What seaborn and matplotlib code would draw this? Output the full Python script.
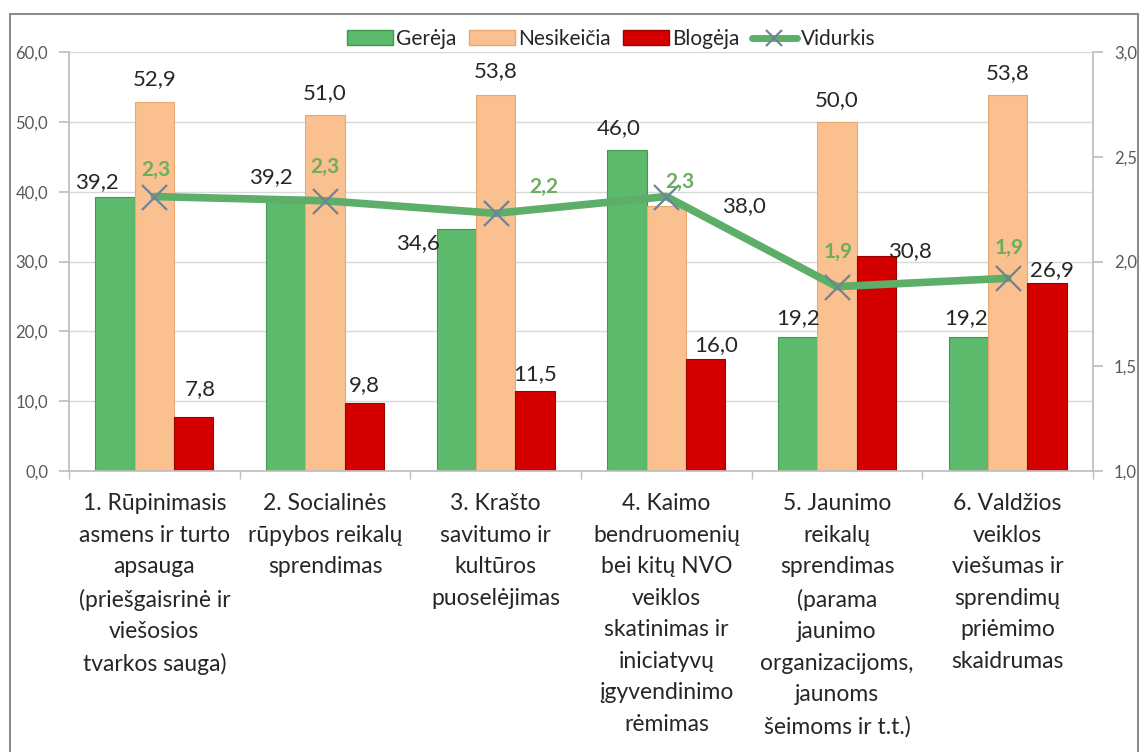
import numpy as np
import pandas as pd
import matplotlib.pyplot as plt
from matplotlib.patches import Patch, Rectangle
from matplotlib.lines import Line2D
import seaborn as sns

categories = [
    "1. Rūpinimasis\nasmens ir turto\napsauga\n(priešgaisrinė ir\nviešosios\ntvarkos sauga)",
    "2. Socialinės\nrūpybos reikalų\nsprendimas",
    "3. Krašto\nsavitumo ir\nkultūros\npuoselėjimas",
    "4. Kaimo\nbendruomenių\nbei kitų NVO\nveiklos\nskatinimas ir\niniciatyvų\nįgyvendinimo\nrėmimas",
    "5. Jaunimo\nreikalų\nsprendimas\n(parama\njaunimo\norganizacijoms,\njaunoms\nšeimoms ir t.t.)",
    "6. Valdžios\nveiklos\nviešumas ir\nsprendimų\npriėmimo\nskaidrumas",
]
series = ["Gerėja", "Nesikeičia", "Blogėja"]
gereja = [39.2, 39.2, 34.6, 46.0, 19.2, 19.2]
nesikeicia = [52.9, 51.0, 53.8, 38.0, 50.0, 53.8]
blogeja = [7.8, 9.8, 11.5, 16.0, 30.8, 26.9]
vidurkis = [2.31, 2.29, 2.23, 2.31, 1.88, 1.92]

colors = ["#5DB96B", "#FAC090", "#D40000"]
edges = ["#3F9A50", "#E9A870", "#9E0000"]
line_green = "#5DAE68"
label_green = "#6AAE5E"

# label nudges in pixels (hand-placed in the original)
bar_dx = [[-18, -15, -38, -8, 0, -2], [0, 0, 0, 78, 0, 0], [7, 0, 0, 11, 34, 5]]
bar_dy = [[15, 20, -14, 22, 19, 19], [22, 22, 24, 0, 22, 22], [27, 17, 17, 14, 5, 13]]
line_dx = [2, 0, 48, 14, 1, 1]
line_dy = [27, 34, 26, 15, 35, 30]

df = pd.DataFrame({
    "cat": np.tile(categories, 3),
    "series": np.repeat(series, len(categories)),
    "val": gereja + nesikeicia + blogeja,
})

sns.set_theme(style="white")
plt.rcParams["font.family"] = ["Lato", "DejaVu Sans"]

fig = plt.figure(figsize=(11.41, 7.52), dpi=100)
ax = fig.add_axes([69 / 1141, 1 - 471 / 752, (1093 - 69) / 1141, (471 - 52) / 752])

sns.barplot(data=df, x="cat", y="val", hue="series", palette=colors,
            saturation=1, width=0.69, ax=ax, legend=False)
for k, cont in enumerate(ax.containers):
    for j, bar in enumerate(cont):
        bar.set_edgecolor(edges[k])
        bar.set_linewidth(0.8)
        ax.annotate(f"{bar.get_height():.1f}".replace(".", ","),
                    (bar.get_x() + bar.get_width() / 2, bar.get_height()),
                    xytext=(bar_dx[k][j], bar_dy[k][j]), textcoords="offset pixels",
                    ha="center", va="center", fontsize=16, color="#262626")

ax.set_ylim(0, 60)
ax.set_yticks(np.arange(0, 61, 10))
ax.set_yticklabels([f"{v:.1f}".replace(".", ",") for v in np.arange(0, 61, 10)])
ax.yaxis.grid(True, color="#D9D9D9", lw=1)
ax.set_axisbelow(True)
ax.set_xlabel("")
ax.set_ylabel("")
ax.set_xticks(range(6))
ax.set_xticklabels(categories, linespacing=1.62, fontsize=16.5, color="#262626", va="top")
ax.set_xticks(np.arange(-0.5, 6, 1), minor=True)
ax.tick_params(axis="x", which="major", length=0, pad=16)
ax.tick_params(axis="x", which="minor", length=6, color="#BFBFBF", direction="out", bottom=True)
ax.tick_params(axis="y", length=7, color="#BFBFBF", direction="out", left=True,
               labelsize=12, labelcolor="#595959", pad=8)
for s in ["top", "right"]:
    ax.spines[s].set_visible(False)
for s in ["left", "bottom"]:
    ax.spines[s].set_color("#BFBFBF")

ax2 = ax.twinx()
sns.lineplot(x=np.arange(6), y=vidurkis, ax=ax2, color=line_green, lw=5.5,
             marker="x", markersize=18, markeredgewidth=1.6, markeredgecolor="#6E8496")
ax2.set_ylim(1, 3)
ax2.set_yticks(np.arange(1, 3.01, 0.5))
ax2.set_yticklabels([f"{v:.1f}".replace(".", ",") for v in np.arange(1, 3.01, 0.5)])
ax2.tick_params(axis="y", length=7, color="#BFBFBF", direction="out", right=True,
                labelsize=12, labelcolor="#595959", pad=8)
ax2.set_xlabel("")
ax2.set_ylabel("")
for s in ["top", "left", "bottom"]:
    ax2.spines[s].set_visible(False)
ax2.spines["right"].set_color("#BFBFBF")
for j, v in enumerate(vidurkis):
    ax2.annotate(f"{v:.1f}".replace(".", ","), (j, v), xytext=(line_dx[j], line_dy[j]),
                 textcoords="offset pixels", ha="center", va="center",
                 fontsize=15, fontweight="bold", color=label_green)
ax.set_xlim(-0.5, 5.5)

handles = [Patch(facecolor=colors[i], edgecolor=edges[i]) for i in range(3)]
handles.append(Line2D([], [], color=line_green, lw=5, marker="x", markersize=12,
                      markeredgewidth=1.5, markeredgecolor="#6E8496"))
fig.legend(handles, series + ["Vidurkis"], loc="center", bbox_to_anchor=(611 / 1141, 1 - 39 / 752),
           ncol=4, frameon=False, fontsize=15, handlelength=2.2, handleheight=0.7,
           handletextpad=0.15, columnspacing=0.6, labelcolor="#262626")

fig.patches.append(Rectangle((10 / 1141, -0.05), (1138 - 10) / 1141, 1.05 - 14 / 752,
                             transform=fig.transFigure, fill=False,
                             edgecolor="#8C8C8C", lw=1.5))

plt.savefig("out.png", dpi=100)
